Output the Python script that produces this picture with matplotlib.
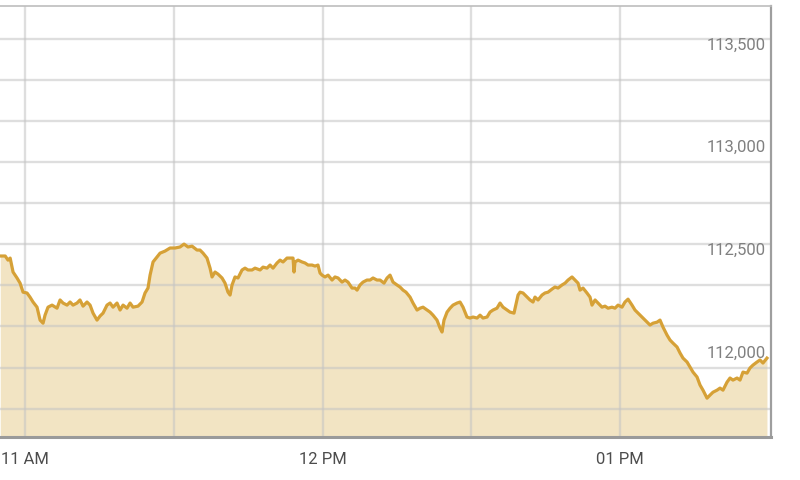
import matplotlib
matplotlib.use("Agg")
from matplotlib import pyplot as plt
import matplotlib.transforms as mtransforms
import pandas as pd

# intraday index level
times = [
    "10:55:00", "10:56:00", "10:56:34", "10:57:00", "10:57:35", "10:58:23", "10:59:00", "10:59:36",
    "11:00:24", "11:01:00", "11:01:37", "11:02:25", "11:03:02", "11:03:38", "11:04:02", "11:04:38",
    "11:05:27", "11:06:27", "11:07:04", "11:07:40", "11:08:28", "11:09:05", "11:09:41", "11:10:29",
    "11:11:05", "11:11:42", "11:12:30", "11:13:07", "11:13:43", "11:14:31", "11:15:08", "11:15:44",
    "11:16:32", "11:17:09", "11:17:45", "11:18:33", "11:19:10", "11:19:46", "11:20:34", "11:21:11",
    "11:21:47", "11:22:47", "11:23:36", "11:24:12", "11:24:48", "11:25:13", "11:25:49", "11:26:37",
    "11:27:14", "11:28:14", "11:29:15", "11:30:15", "11:31:16", "11:32:04", "11:32:52", "11:33:41",
    "11:34:41", "11:35:17", "11:35:54", "11:36:42", "11:37:19", "11:37:43", "11:38:19", "11:38:55",
    "11:39:44", "11:40:20", "11:40:56", "11:41:21", "11:41:45", "11:42:21", "11:42:57", "11:43:46",
    "11:44:22", "11:44:58", "11:45:47", "11:46:23", "11:47:24", "11:48:00", "11:48:48", "11:49:25",
    "11:50:01", "11:50:49", "11:51:26", "11:52:02", "11:52:50", "11:53:27", "11:54:03", "11:54:15",
    "11:54:27", "11:55:04", "11:55:52", "11:56:28", "11:57:05", "11:57:53", "11:58:29", "11:59:05",
    "11:59:30", "11:59:54", "12:00:30", "12:01:07", "12:01:55", "12:02:31", "12:03:08", "12:03:56",
    "12:04:32", "12:05:08", "12:05:57", "12:06:33", "12:06:58", "12:07:34", "12:08:10", "12:08:58",
    "12:09:35", "12:10:11", "12:10:59", "12:11:36", "12:12:24", "12:13:01", "12:13:37", "12:14:13",
    "12:15:01", "12:15:38", "12:16:14", "12:16:50", "12:17:39", "12:18:15", "12:19:04", "12:19:40",
    "12:20:16", "12:21:05", "12:21:41", "12:22:17", "12:23:05", "12:23:42", "12:24:06", "12:24:30",
    "12:25:07", "12:25:43", "12:26:19", "12:27:08", "12:27:44", "12:28:20", "12:29:08", "12:29:45",
    "12:30:21", "12:31:10", "12:31:46", "12:32:22", "12:33:11", "12:33:47", "12:34:23", "12:35:11",
    "12:35:48", "12:36:24", "12:37:13", "12:37:49", "12:38:37", "12:39:26", "12:39:50", "12:40:26",
    "12:41:15", "12:41:51", "12:42:27", "12:42:51", "12:43:28", "12:44:16", "12:44:52", "12:45:29",
    "12:46:17", "12:46:53", "12:47:30", "12:48:18", "12:48:55", "12:49:31", "12:50:19", "12:50:55",
    "12:51:32", "12:51:56", "12:52:32", "12:53:20", "12:53:57", "12:54:21", "12:54:58", "12:55:34",
    "12:56:22", "12:56:58", "12:57:35", "12:58:23", "12:58:59", "12:59:36", "13:00:24", "13:01:00",
    "13:01:37", "13:02:25", "13:03:01", "13:04:02", "13:04:38", "13:05:27", "13:06:03", "13:06:39",
    "13:07:28", "13:08:04", "13:08:40", "13:09:29", "13:10:05", "13:10:41", "13:11:30", "13:12:06",
    "13:12:42", "13:13:31", "13:14:07", "13:14:43", "13:15:32", "13:16:08", "13:16:44", "13:17:33",
    "13:18:09", "13:18:45", "13:19:34", "13:20:10", "13:20:46", "13:21:35", "13:22:11", "13:22:47",
    "13:23:36", "13:24:12", "13:24:48", "13:25:37", "13:26:13", "13:26:49", "13:27:38", "13:28:14",
    "13:28:50", "13:29:38",
]
index_values = [
    112473, 112473, 112453, 112463, 112395, 112366, 112341, 112297,
    112293, 112273, 112249, 112224, 112161, 112146, 112185, 112224,
    112234, 112219, 112259, 112244, 112234, 112249, 112234, 112244,
    112259, 112229, 112249, 112234, 112195, 112161, 112181, 112195,
    112234, 112244, 112224, 112244, 112210, 112234, 112219, 112244,
    112224, 112229, 112249, 112293, 112317, 112380, 112444, 112468,
    112487, 112497, 112512, 112512, 112517, 112531, 112517, 112521,
    112502, 112502, 112487, 112463, 112414, 112371, 112395, 112385,
    112366, 112341, 112297, 112283, 112332, 112371, 112366, 112405,
    112414, 112405, 112405, 112414, 112405, 112419, 112414, 112429,
    112414, 112439, 112453, 112444, 112463, 112463, 112463, 112395,
    112444, 112453, 112444, 112439, 112429, 112429, 112424, 112429,
    112390, 112380, 112371, 112380, 112356, 112371, 112366, 112346,
    112356, 112346, 112317, 112317, 112307, 112332, 112346, 112356,
    112356, 112366, 112356, 112356, 112341, 112366, 112380, 112346,
    112332, 112322, 112307, 112297, 112273, 112244, 112210, 112219,
    112224, 112210, 112200, 112185, 112161, 112122, 112103, 112161,
    112200, 112219, 112234, 112244, 112249, 112224, 112176, 112171,
    112176, 112171, 112185, 112171, 112176, 112200, 112210, 112219,
    112244, 112224, 112210, 112200, 112195, 112283, 112297, 112293,
    112273, 112259, 112249, 112273, 112259, 112283, 112293, 112297,
    112312, 112322, 112317, 112332, 112341, 112356, 112371, 112356,
    112341, 112307, 112317, 112293, 112273, 112234, 112259, 112244,
    112224, 112229, 112219, 112224, 112219, 112234, 112224, 112249,
    112263, 112234, 112210, 112185, 112171, 112151, 112137, 112146,
    112151, 112161, 112127, 112088, 112064, 112049, 112030, 112001,
    111976, 111957, 111932, 111908, 111884, 111845, 111820, 111781,
    111796, 111810, 111820, 111830, 111820, 111859, 111879, 111869,
    111879, 111869, 111908, 111903, 111928, 111942, 111957, 111967,
    111952, 111976,
]

y_labels = [113500, 113000, 112500, 112000]
y_grid = [113530, 113330, 113130, 112930, 112730, 112530, 112330, 112130, 111930, 111730]
x_grid = ["11:00:00", "11:30:00", "12:00:00", "12:30:00", "13:00:00"]
x_ticks = ["11:00:00", "12:00:00", "13:00:00"]
x_tick_labels = ["11 AM", "12 PM", "01 PM"]
x_range = ["10:54:57", "13:30:27"]
y_range = [111592, 113690]

line_color = "#d6a137"
fill_color = "#f2e4c3"

plt.rcParams["font.family"] = ["Roboto", "DejaVu Sans"]

t = pd.to_datetime(times, format="%H:%M:%S")
fmt = lambda s: pd.to_datetime(s, format="%H:%M:%S")

fig = plt.figure(figsize=(8, 4.8), dpi=100)
ax = fig.add_axes([0, 1 - 437 / 480, 771 / 800, 431 / 480])

ax.fill_between(t, index_values, y_range[0], color=fill_color, lw=0, zorder=1)
ax.plot(t, index_values, color=line_color, lw=2.3, zorder=4, solid_joinstyle="round")

for g in y_grid:
    ax.axhline(g, color="#c4c4c4", alpha=0.55, lw=1.7, zorder=2)
for g in x_grid:
    ax.axvline(fmt(g), color="#c4c4c4", alpha=0.55, lw=1.7, zorder=2)

ax.set_xlim(fmt(x_range[0]), fmt(x_range[1]))
ax.set_ylim(*y_range)

ax.set_xticks([fmt(s) for s in x_ticks])
ax.set_xticklabels(x_tick_labels, fontsize=12, color="#4d4d4d")
ax.tick_params(axis="x", length=0, pad=11)
ax.set_yticks([])

trans = mtransforms.blended_transform_factory(ax.transAxes, ax.transData)
for v in y_labels:
    ax.annotate(f"{v:,}", xy=(1, v), xycoords=trans, xytext=(-4, 0),
                textcoords="offset points", ha="right", va="center",
                fontsize=12, color="#808080", zorder=5)

ax.spines["left"].set_visible(False)
ax.spines["top"].set_color("#bdbdbd")
ax.spines["top"].set_linewidth(1.2)
ax.spines["right"].set_color("#9e9e9e")
ax.spines["right"].set_linewidth(1.6)
ax.spines["bottom"].set_color("#9a9a9a")
ax.spines["bottom"].set_linewidth(2.2)

plt.savefig("out.png", dpi=100)
plt.close()
